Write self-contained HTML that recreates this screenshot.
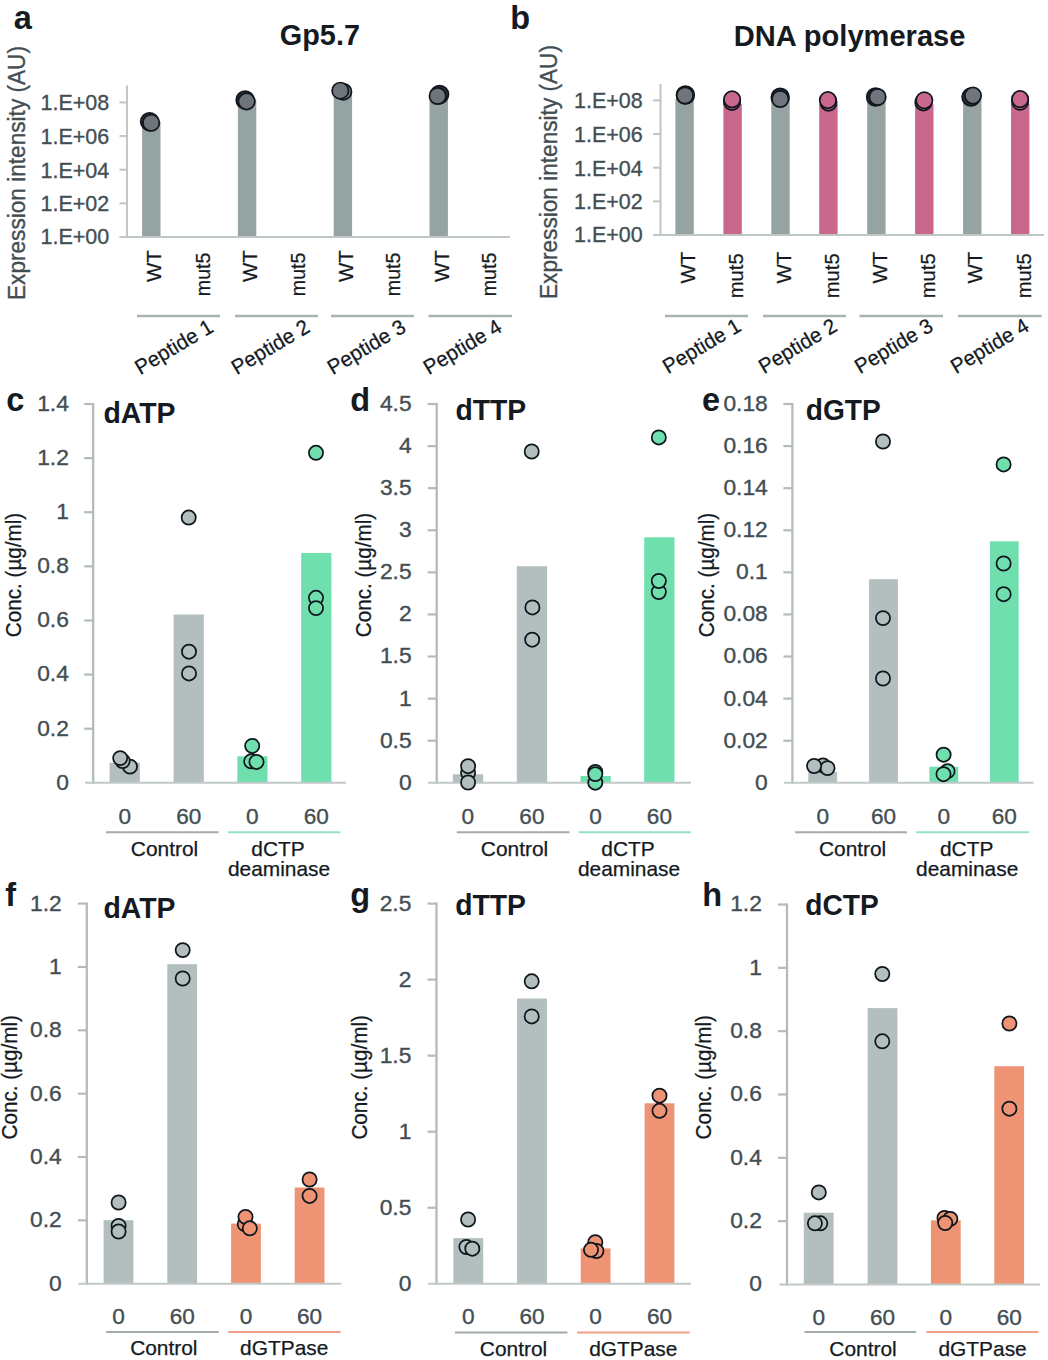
<!DOCTYPE html>
<html><head><meta charset="utf-8"><title>Figure</title>
<style>
html,body{margin:0;padding:0;background:#fff;}
body{width:1048px;height:1360px;overflow:hidden;}
svg{display:block;font-family:"Liberation Sans",sans-serif;}
</style></head><body>
<svg width="1048" height="1360" viewBox="0 0 1048 1360">
<rect width="1048" height="1360" fill="#ffffff"/>
<text x="13.8" y="29" font-size="32.5" text-anchor="start" fill="#141a1f" font-weight="bold">a</text>
<text x="319.9" y="45.3" font-size="30.4" text-anchor="middle" fill="#141a1f" font-weight="bold" textLength="80.2" lengthAdjust="spacingAndGlyphs">Gp5.7</text>
<rect x="142.1" y="122.0" width="18.4" height="115.0" fill="#96a3a3"/>
<rect x="237.9" y="100.0" width="18.4" height="137.0" fill="#96a3a3"/>
<rect x="333.7" y="92.0" width="18.4" height="145.0" fill="#96a3a3"/>
<rect x="429.5" y="96.0" width="18.4" height="141.0" fill="#96a3a3"/>
<line x1="127" y1="85.6" x2="127" y2="238.1" stroke="#bfc6c6" stroke-width="2.1"/>
<line x1="119.5" y1="237" x2="510" y2="237" stroke="#bfc6c6" stroke-width="2.1"/>
<line x1="119.5" y1="102.4" x2="127" y2="102.4" stroke="#bfc6c6" stroke-width="2.0"/>
<text x="109.1" y="110.30000000000001" font-size="22.9" text-anchor="end" fill="#434e53" textLength="68.6" lengthAdjust="spacingAndGlyphs" stroke="#434e53" stroke-width="0.35">1.E+08</text>
<line x1="119.5" y1="136.05" x2="127" y2="136.05" stroke="#bfc6c6" stroke-width="2.0"/>
<text x="109.1" y="143.95000000000002" font-size="22.9" text-anchor="end" fill="#434e53" textLength="68.6" lengthAdjust="spacingAndGlyphs" stroke="#434e53" stroke-width="0.35">1.E+06</text>
<line x1="119.5" y1="169.7" x2="127" y2="169.7" stroke="#bfc6c6" stroke-width="2.0"/>
<text x="109.1" y="177.6" font-size="22.9" text-anchor="end" fill="#434e53" textLength="68.6" lengthAdjust="spacingAndGlyphs" stroke="#434e53" stroke-width="0.35">1.E+04</text>
<line x1="119.5" y1="203.35" x2="127" y2="203.35" stroke="#bfc6c6" stroke-width="2.0"/>
<text x="109.1" y="211.25" font-size="22.9" text-anchor="end" fill="#434e53" textLength="68.6" lengthAdjust="spacingAndGlyphs" stroke="#434e53" stroke-width="0.35">1.E+02</text>
<text x="109.1" y="244.20000000000002" font-size="22.9" text-anchor="end" fill="#434e53" textLength="68.6" lengthAdjust="spacingAndGlyphs" stroke="#434e53" stroke-width="0.35">1.E+00</text>
<circle cx="149.6" cy="121.7" r="8.9" fill="#2b3038" stroke="#10161d" stroke-width="1.7"/>
<circle cx="151.2" cy="122.8" r="8.2" fill="#6f757a" stroke="#10161d" stroke-width="1.7"/>
<circle cx="245.1" cy="99.9" r="8.9" fill="#2b3038" stroke="#10161d" stroke-width="1.7"/>
<circle cx="246.6" cy="101.4" r="8.2" fill="#6f757a" stroke="#10161d" stroke-width="1.7"/>
<circle cx="343.3" cy="91.7" r="8.2" fill="#6f757a" stroke="#10161d" stroke-width="1.7"/>
<circle cx="340.3" cy="90.7" r="8.2" fill="#6f757a" stroke="#10161d" stroke-width="1.7"/>
<circle cx="439.6" cy="94.5" r="8.9" fill="#2b3038" stroke="#10161d" stroke-width="1.7"/>
<circle cx="437.6" cy="96.0" r="8.2" fill="#6f757a" stroke="#10161d" stroke-width="1.7"/>
<text x="24.5" y="173" font-size="24.8" text-anchor="middle" fill="#434e53" textLength="254" lengthAdjust="spacingAndGlyphs" stroke="#434e53" stroke-width="0.35" transform="rotate(-90 24.5 173)">Expression intensity (AU)</text>
<text x="161.0" y="250.2" font-size="20.4" text-anchor="end" fill="#141a1f" stroke="#141a1f" stroke-width="0.25" transform="rotate(-90 161.0 250.2)">WT</text>
<text x="210.4" y="252.6" font-size="21" text-anchor="end" fill="#141a1f" textLength="43.6" lengthAdjust="spacingAndGlyphs" stroke="#141a1f" stroke-width="0.25" transform="rotate(-90 210.4 252.6)">mut5</text>
<text x="256.8" y="250.2" font-size="20.4" text-anchor="end" fill="#141a1f" stroke="#141a1f" stroke-width="0.25" transform="rotate(-90 256.8 250.2)">WT</text>
<text x="305.5" y="252.6" font-size="21" text-anchor="end" fill="#141a1f" textLength="43.6" lengthAdjust="spacingAndGlyphs" stroke="#141a1f" stroke-width="0.25" transform="rotate(-90 305.5 252.6)">mut5</text>
<text x="352.59999999999997" y="250.2" font-size="20.4" text-anchor="end" fill="#141a1f" stroke="#141a1f" stroke-width="0.25" transform="rotate(-90 352.59999999999997 250.2)">WT</text>
<text x="400.5" y="252.6" font-size="21" text-anchor="end" fill="#141a1f" textLength="43.6" lengthAdjust="spacingAndGlyphs" stroke="#141a1f" stroke-width="0.25" transform="rotate(-90 400.5 252.6)">mut5</text>
<text x="449.09999999999997" y="250.2" font-size="20.4" text-anchor="end" fill="#141a1f" stroke="#141a1f" stroke-width="0.25" transform="rotate(-90 449.09999999999997 250.2)">WT</text>
<text x="496.3" y="252.6" font-size="21" text-anchor="end" fill="#141a1f" textLength="43.6" lengthAdjust="spacingAndGlyphs" stroke="#141a1f" stroke-width="0.25" transform="rotate(-90 496.3 252.6)">mut5</text>
<line x1="137" y1="316" x2="220" y2="316" stroke="#a9b3b3" stroke-width="2.4"/>
<line x1="235" y1="316" x2="318" y2="316" stroke="#a9b3b3" stroke-width="2.4"/>
<line x1="331" y1="316" x2="414" y2="316" stroke="#a9b3b3" stroke-width="2.4"/>
<line x1="428.5" y1="316" x2="512" y2="316" stroke="#a9b3b3" stroke-width="2.4"/>
<text x="140.3" y="375.2" font-size="21" text-anchor="start" fill="#141a1f" stroke="#141a1f" stroke-width="0.25" textLength="86.7" lengthAdjust="spacingAndGlyphs" transform="rotate(-30.8 140.3 375.2)">Peptide 1</text>
<text x="236.8" y="375.2" font-size="21" text-anchor="start" fill="#141a1f" stroke="#141a1f" stroke-width="0.25" textLength="86.7" lengthAdjust="spacingAndGlyphs" transform="rotate(-30.8 236.8 375.2)">Peptide 2</text>
<text x="332.8" y="375.2" font-size="21" text-anchor="start" fill="#141a1f" stroke="#141a1f" stroke-width="0.25" textLength="86.7" lengthAdjust="spacingAndGlyphs" transform="rotate(-30.8 332.8 375.2)">Peptide 3</text>
<text x="428.8" y="375.2" font-size="21" text-anchor="start" fill="#141a1f" stroke="#141a1f" stroke-width="0.25" textLength="86.7" lengthAdjust="spacingAndGlyphs" transform="rotate(-30.8 428.8 375.2)">Peptide 4</text>
<text x="510.2" y="29" font-size="32.5" text-anchor="start" fill="#141a1f" font-weight="bold">b</text>
<text x="849.6" y="45.9" font-size="30.4" text-anchor="middle" fill="#141a1f" font-weight="bold" textLength="231.6" lengthAdjust="spacingAndGlyphs">DNA polymerase</text>
<rect x="675.4" y="99.0" width="18.4" height="136.0" fill="#96a3a3"/>
<rect x="723.4" y="104.0" width="18.4" height="131.0" fill="#c9688c"/>
<rect x="771.3" y="99.0" width="18.4" height="136.0" fill="#96a3a3"/>
<rect x="819.2" y="104.0" width="18.4" height="131.0" fill="#c9688c"/>
<rect x="867.2" y="99.0" width="18.4" height="136.0" fill="#96a3a3"/>
<rect x="915.1" y="104.0" width="18.4" height="131.0" fill="#c9688c"/>
<rect x="963.1" y="99.0" width="18.4" height="136.0" fill="#96a3a3"/>
<rect x="1011.0" y="104.0" width="18.4" height="131.0" fill="#c9688c"/>
<line x1="660.5" y1="84" x2="660.5" y2="236.1" stroke="#bfc6c6" stroke-width="2.1"/>
<line x1="653.0" y1="235" x2="1044" y2="235" stroke="#bfc6c6" stroke-width="2.1"/>
<line x1="653.0" y1="100.4" x2="660.5" y2="100.4" stroke="#bfc6c6" stroke-width="2.0"/>
<text x="642.6" y="108.30000000000001" font-size="22.9" text-anchor="end" fill="#434e53" textLength="68.6" lengthAdjust="spacingAndGlyphs" stroke="#434e53" stroke-width="0.35">1.E+08</text>
<line x1="653.0" y1="134.05" x2="660.5" y2="134.05" stroke="#bfc6c6" stroke-width="2.0"/>
<text x="642.6" y="141.95000000000002" font-size="22.9" text-anchor="end" fill="#434e53" textLength="68.6" lengthAdjust="spacingAndGlyphs" stroke="#434e53" stroke-width="0.35">1.E+06</text>
<line x1="653.0" y1="167.7" x2="660.5" y2="167.7" stroke="#bfc6c6" stroke-width="2.0"/>
<text x="642.6" y="175.6" font-size="22.9" text-anchor="end" fill="#434e53" textLength="68.6" lengthAdjust="spacingAndGlyphs" stroke="#434e53" stroke-width="0.35">1.E+04</text>
<line x1="653.0" y1="201.35" x2="660.5" y2="201.35" stroke="#bfc6c6" stroke-width="2.0"/>
<text x="642.6" y="209.25" font-size="22.9" text-anchor="end" fill="#434e53" textLength="68.6" lengthAdjust="spacingAndGlyphs" stroke="#434e53" stroke-width="0.35">1.E+02</text>
<text x="642.6" y="242.20000000000002" font-size="22.9" text-anchor="end" fill="#434e53" textLength="68.6" lengthAdjust="spacingAndGlyphs" stroke="#434e53" stroke-width="0.35">1.E+00</text>
<circle cx="685.4" cy="95.0" r="8.9" fill="#2b3038" stroke="#10161d" stroke-width="1.7"/>
<circle cx="685.0" cy="95.5" r="8.2" fill="#6f757a" stroke="#10161d" stroke-width="1.7"/>
<circle cx="732.0" cy="101.9" r="8.2" fill="#c9688c" stroke="#10161d" stroke-width="1.7"/>
<circle cx="732.1" cy="99.4" r="8.2" fill="#c9688c" stroke="#10161d" stroke-width="1.7"/>
<circle cx="780.2" cy="97.2" r="8.9" fill="#2b3038" stroke="#10161d" stroke-width="1.7"/>
<circle cx="780.2" cy="99.0" r="8.2" fill="#6f757a" stroke="#10161d" stroke-width="1.7"/>
<circle cx="828.5" cy="102.6" r="8.2" fill="#c9688c" stroke="#10161d" stroke-width="1.7"/>
<circle cx="827.9" cy="100.1" r="8.2" fill="#c9688c" stroke="#10161d" stroke-width="1.7"/>
<circle cx="875.6" cy="97.0" r="8.9" fill="#2b3038" stroke="#10161d" stroke-width="1.7"/>
<circle cx="877.6" cy="97.0" r="8.2" fill="#6f757a" stroke="#10161d" stroke-width="1.7"/>
<circle cx="923.4" cy="102.4" r="8.2" fill="#c9688c" stroke="#10161d" stroke-width="1.7"/>
<circle cx="924.3" cy="100.3" r="8.2" fill="#c9688c" stroke="#10161d" stroke-width="1.7"/>
<circle cx="971.0" cy="97.1" r="8.9" fill="#2b3038" stroke="#10161d" stroke-width="1.7"/>
<circle cx="973.0" cy="95.6" r="8.2" fill="#6f757a" stroke="#10161d" stroke-width="1.7"/>
<circle cx="1020.1" cy="101.7" r="8.2" fill="#c9688c" stroke="#10161d" stroke-width="1.7"/>
<circle cx="1020.1" cy="99.1" r="8.2" fill="#c9688c" stroke="#10161d" stroke-width="1.7"/>
<text x="556.5" y="172" font-size="24.8" text-anchor="middle" fill="#434e53" textLength="254" lengthAdjust="spacingAndGlyphs" stroke="#434e53" stroke-width="0.35" transform="rotate(-90 556.5 172)">Expression intensity (AU)</text>
<text x="694.8000000000001" y="251.9" font-size="20.4" text-anchor="end" fill="#141a1f" stroke="#141a1f" stroke-width="0.25" transform="rotate(-90 694.8000000000001 251.9)">WT</text>
<text x="743.2500000000001" y="253.4" font-size="21" text-anchor="end" fill="#141a1f" textLength="44.8" lengthAdjust="spacingAndGlyphs" stroke="#141a1f" stroke-width="0.25" transform="rotate(-90 743.2500000000001 253.4)">mut5</text>
<text x="790.7" y="251.9" font-size="20.4" text-anchor="end" fill="#141a1f" stroke="#141a1f" stroke-width="0.25" transform="rotate(-90 790.7 251.9)">WT</text>
<text x="839.1500000000001" y="253.4" font-size="21" text-anchor="end" fill="#141a1f" textLength="44.8" lengthAdjust="spacingAndGlyphs" stroke="#141a1f" stroke-width="0.25" transform="rotate(-90 839.1500000000001 253.4)">mut5</text>
<text x="886.6000000000001" y="251.9" font-size="20.4" text-anchor="end" fill="#141a1f" stroke="#141a1f" stroke-width="0.25" transform="rotate(-90 886.6000000000001 251.9)">WT</text>
<text x="935.0500000000001" y="253.4" font-size="21" text-anchor="end" fill="#141a1f" textLength="44.8" lengthAdjust="spacingAndGlyphs" stroke="#141a1f" stroke-width="0.25" transform="rotate(-90 935.0500000000001 253.4)">mut5</text>
<text x="982.5000000000001" y="251.9" font-size="20.4" text-anchor="end" fill="#141a1f" stroke="#141a1f" stroke-width="0.25" transform="rotate(-90 982.5000000000001 251.9)">WT</text>
<text x="1030.95" y="253.4" font-size="21" text-anchor="end" fill="#141a1f" textLength="44.8" lengthAdjust="spacingAndGlyphs" stroke="#141a1f" stroke-width="0.25" transform="rotate(-90 1030.95 253.4)">mut5</text>
<line x1="665" y1="316" x2="748" y2="316" stroke="#a9b3b3" stroke-width="2.4"/>
<line x1="763" y1="316" x2="846" y2="316" stroke="#a9b3b3" stroke-width="2.4"/>
<line x1="859.5" y1="316" x2="943" y2="316" stroke="#a9b3b3" stroke-width="2.4"/>
<line x1="958" y1="316" x2="1041.6" y2="316" stroke="#a9b3b3" stroke-width="2.4"/>
<text x="668.0" y="374.3" font-size="21" text-anchor="start" fill="#141a1f" stroke="#141a1f" stroke-width="0.25" textLength="86.7" lengthAdjust="spacingAndGlyphs" transform="rotate(-30.8 668.0 374.3)">Peptide 1</text>
<text x="764.0" y="374.3" font-size="21" text-anchor="start" fill="#141a1f" stroke="#141a1f" stroke-width="0.25" textLength="86.7" lengthAdjust="spacingAndGlyphs" transform="rotate(-30.8 764.0 374.3)">Peptide 2</text>
<text x="860.0" y="374.3" font-size="21" text-anchor="start" fill="#141a1f" stroke="#141a1f" stroke-width="0.25" textLength="86.7" lengthAdjust="spacingAndGlyphs" transform="rotate(-30.8 860.0 374.3)">Peptide 3</text>
<text x="956.0" y="374.3" font-size="21" text-anchor="start" fill="#141a1f" stroke="#141a1f" stroke-width="0.25" textLength="86.7" lengthAdjust="spacingAndGlyphs" transform="rotate(-30.8 956.0 374.3)">Peptide 4</text>
<text x="6.3" y="411" font-size="32.5" text-anchor="start" fill="#141a1f" font-weight="bold">c</text>
<text x="103.4" y="423.4" font-size="30.4" text-anchor="start" fill="#141a1f" font-weight="bold" textLength="72.1" lengthAdjust="spacingAndGlyphs">dATP</text>
<rect x="109.6" y="762.6" width="30.2" height="20.2" fill="#b3bfbf"/>
<rect x="173.6" y="614.5" width="30.2" height="168.3" fill="#b3bfbf"/>
<rect x="237.3" y="756.3" width="30.2" height="26.5" fill="#70dfae"/>
<rect x="301.2" y="553.0" width="30.2" height="229.8" fill="#70dfae"/>
<line x1="93.2" y1="402.9" x2="93.2" y2="783.8" stroke="#b3bcbb" stroke-width="2.3"/>
<line x1="85" y1="782.8" x2="346" y2="782.8" stroke="#c0c9c8" stroke-width="2.0"/>
<line x1="84.2" y1="404.0" x2="93.2" y2="404.0" stroke="#b3bbbb" stroke-width="2.2"/>
<text x="68.9" y="410.9" font-size="22.3" text-anchor="end" fill="#434e53" textLength="31.7" lengthAdjust="spacingAndGlyphs" stroke="#434e53" stroke-width="0.35">1.4</text>
<line x1="84.2" y1="458.1142857142857" x2="93.2" y2="458.1142857142857" stroke="#b3bbbb" stroke-width="2.2"/>
<text x="68.9" y="465.0142857142857" font-size="22.3" text-anchor="end" fill="#434e53" textLength="31.7" lengthAdjust="spacingAndGlyphs" stroke="#434e53" stroke-width="0.35">1.2</text>
<line x1="84.2" y1="512.2285714285714" x2="93.2" y2="512.2285714285714" stroke="#b3bbbb" stroke-width="2.2"/>
<text x="68.9" y="519.1285714285714" font-size="22.3" text-anchor="end" fill="#434e53" textLength="12.7" lengthAdjust="spacingAndGlyphs" stroke="#434e53" stroke-width="0.35">1</text>
<line x1="84.2" y1="566.3428571428572" x2="93.2" y2="566.3428571428572" stroke="#b3bbbb" stroke-width="2.2"/>
<text x="68.9" y="573.2428571428571" font-size="22.3" text-anchor="end" fill="#434e53" textLength="31.7" lengthAdjust="spacingAndGlyphs" stroke="#434e53" stroke-width="0.35">0.8</text>
<line x1="84.2" y1="620.4571428571428" x2="93.2" y2="620.4571428571428" stroke="#b3bbbb" stroke-width="2.2"/>
<text x="68.9" y="627.3571428571428" font-size="22.3" text-anchor="end" fill="#434e53" textLength="31.7" lengthAdjust="spacingAndGlyphs" stroke="#434e53" stroke-width="0.35">0.6</text>
<line x1="84.2" y1="674.5714285714286" x2="93.2" y2="674.5714285714286" stroke="#b3bbbb" stroke-width="2.2"/>
<text x="68.9" y="681.4714285714285" font-size="22.3" text-anchor="end" fill="#434e53" textLength="31.7" lengthAdjust="spacingAndGlyphs" stroke="#434e53" stroke-width="0.35">0.4</text>
<line x1="84.2" y1="728.6857142857143" x2="93.2" y2="728.6857142857143" stroke="#b3bbbb" stroke-width="2.2"/>
<text x="68.9" y="735.5857142857143" font-size="22.3" text-anchor="end" fill="#434e53" textLength="31.7" lengthAdjust="spacingAndGlyphs" stroke="#434e53" stroke-width="0.35">0.2</text>
<text x="68.9" y="789.6999999999999" font-size="22.3" text-anchor="end" fill="#434e53" textLength="12.7" lengthAdjust="spacingAndGlyphs" stroke="#434e53" stroke-width="0.35">0</text>
<circle cx="130.0" cy="766.6" r="7.1" fill="#b3bfbf" stroke="#10161d" stroke-width="1.75"/>
<circle cx="122.6" cy="761.0" r="7.1" fill="#b3bfbf" stroke="#10161d" stroke-width="1.75"/>
<circle cx="120.2" cy="758.1" r="7.1" fill="#b3bfbf" stroke="#10161d" stroke-width="1.75"/>
<circle cx="188.7" cy="517.6" r="7.1" fill="#b3bfbf" stroke="#10161d" stroke-width="1.75"/>
<circle cx="189.0" cy="651.7" r="7.1" fill="#b3bfbf" stroke="#10161d" stroke-width="1.75"/>
<circle cx="189.0" cy="673.4" r="7.1" fill="#b3bfbf" stroke="#10161d" stroke-width="1.75"/>
<circle cx="251.2" cy="761.3" r="7.1" fill="#70dfae" stroke="#10161d" stroke-width="1.75"/>
<circle cx="256.5" cy="761.9" r="7.1" fill="#70dfae" stroke="#10161d" stroke-width="1.75"/>
<circle cx="252.2" cy="745.9" r="7.1" fill="#70dfae" stroke="#10161d" stroke-width="1.75"/>
<circle cx="316.0" cy="452.8" r="7.1" fill="#70dfae" stroke="#10161d" stroke-width="1.75"/>
<circle cx="316.0" cy="597.8" r="7.1" fill="#70dfae" stroke="#10161d" stroke-width="1.75"/>
<circle cx="316.0" cy="608.1" r="7.1" fill="#70dfae" stroke="#10161d" stroke-width="1.75"/>
<text x="20.7" y="575" font-size="21.3" text-anchor="middle" fill="#141a1f" textLength="124.5" lengthAdjust="spacingAndGlyphs" stroke="#141a1f" stroke-width="0.25" transform="rotate(-90 20.7 575)">Conc. (µg/ml)</text>
<text x="124.7" y="823.5" font-size="22.6" text-anchor="middle" fill="#434e53" textLength="12.6" lengthAdjust="spacingAndGlyphs" stroke="#434e53" stroke-width="0.35">0</text>
<text x="188.7" y="823.5" font-size="22.6" text-anchor="middle" fill="#434e53" textLength="25.1" lengthAdjust="spacingAndGlyphs" stroke="#434e53" stroke-width="0.35">60</text>
<text x="252.4" y="823.5" font-size="22.6" text-anchor="middle" fill="#434e53" textLength="12.6" lengthAdjust="spacingAndGlyphs" stroke="#434e53" stroke-width="0.35">0</text>
<text x="316.3" y="823.5" font-size="22.6" text-anchor="middle" fill="#434e53" textLength="25.1" lengthAdjust="spacingAndGlyphs" stroke="#434e53" stroke-width="0.35">60</text>
<line x1="106" y1="832.3" x2="218.5" y2="832.3" stroke="#a3abab" stroke-width="2.0"/>
<line x1="228" y1="832.3" x2="340.5" y2="832.3" stroke="#96e2c0" stroke-width="2.0"/>
<text x="164.5" y="855.8" font-size="20.9" text-anchor="middle" fill="#141a1f" stroke="#141a1f" stroke-width="0.25">Control</text>
<text x="278" y="855.8" font-size="20.9" text-anchor="middle" fill="#141a1f" stroke="#141a1f" stroke-width="0.25">dCTP</text>
<text x="279" y="875.8" font-size="20.9" text-anchor="middle" fill="#141a1f" stroke="#141a1f" stroke-width="0.25">deaminase</text>
<text x="350.3" y="411" font-size="32.5" text-anchor="start" fill="#141a1f" font-weight="bold">d</text>
<text x="455.4" y="420" font-size="30.4" text-anchor="start" fill="#141a1f" font-weight="bold" textLength="70.8" lengthAdjust="spacingAndGlyphs">dTTP</text>
<rect x="452.8" y="774.3" width="30.3" height="8.5" fill="#b3bfbf"/>
<rect x="516.8" y="566.2" width="30.3" height="216.6" fill="#b3bfbf"/>
<rect x="580.5" y="776.0" width="30.3" height="6.8" fill="#70dfae"/>
<rect x="644.2" y="537.3" width="30.3" height="245.5" fill="#70dfae"/>
<line x1="436.7" y1="402.9" x2="436.7" y2="783.8" stroke="#b3bcbb" stroke-width="2.3"/>
<line x1="428" y1="782.8" x2="691" y2="782.8" stroke="#c0c9c8" stroke-width="2.0"/>
<line x1="427.7" y1="404.0" x2="436.7" y2="404.0" stroke="#b3bbbb" stroke-width="2.2"/>
<text x="411.59999999999997" y="410.9" font-size="22.3" text-anchor="end" fill="#434e53" textLength="31.7" lengthAdjust="spacingAndGlyphs" stroke="#434e53" stroke-width="0.35">4.5</text>
<line x1="427.7" y1="446.0888888888889" x2="436.7" y2="446.0888888888889" stroke="#b3bbbb" stroke-width="2.2"/>
<text x="411.59999999999997" y="452.9888888888889" font-size="22.3" text-anchor="end" fill="#434e53" textLength="12.7" lengthAdjust="spacingAndGlyphs" stroke="#434e53" stroke-width="0.35">4</text>
<line x1="427.7" y1="488.17777777777775" x2="436.7" y2="488.17777777777775" stroke="#b3bbbb" stroke-width="2.2"/>
<text x="411.59999999999997" y="495.0777777777777" font-size="22.3" text-anchor="end" fill="#434e53" textLength="31.7" lengthAdjust="spacingAndGlyphs" stroke="#434e53" stroke-width="0.35">3.5</text>
<line x1="427.7" y1="530.2666666666667" x2="436.7" y2="530.2666666666667" stroke="#b3bbbb" stroke-width="2.2"/>
<text x="411.59999999999997" y="537.1666666666666" font-size="22.3" text-anchor="end" fill="#434e53" textLength="12.7" lengthAdjust="spacingAndGlyphs" stroke="#434e53" stroke-width="0.35">3</text>
<line x1="427.7" y1="572.3555555555555" x2="436.7" y2="572.3555555555555" stroke="#b3bbbb" stroke-width="2.2"/>
<text x="411.59999999999997" y="579.2555555555555" font-size="22.3" text-anchor="end" fill="#434e53" textLength="31.7" lengthAdjust="spacingAndGlyphs" stroke="#434e53" stroke-width="0.35">2.5</text>
<line x1="427.7" y1="614.4444444444445" x2="436.7" y2="614.4444444444445" stroke="#b3bbbb" stroke-width="2.2"/>
<text x="411.59999999999997" y="621.3444444444444" font-size="22.3" text-anchor="end" fill="#434e53" textLength="12.7" lengthAdjust="spacingAndGlyphs" stroke="#434e53" stroke-width="0.35">2</text>
<line x1="427.7" y1="656.5333333333333" x2="436.7" y2="656.5333333333333" stroke="#b3bbbb" stroke-width="2.2"/>
<text x="411.59999999999997" y="663.4333333333333" font-size="22.3" text-anchor="end" fill="#434e53" textLength="31.7" lengthAdjust="spacingAndGlyphs" stroke="#434e53" stroke-width="0.35">1.5</text>
<line x1="427.7" y1="698.6222222222221" x2="436.7" y2="698.6222222222221" stroke="#b3bbbb" stroke-width="2.2"/>
<text x="411.59999999999997" y="705.5222222222221" font-size="22.3" text-anchor="end" fill="#434e53" textLength="12.7" lengthAdjust="spacingAndGlyphs" stroke="#434e53" stroke-width="0.35">1</text>
<line x1="427.7" y1="740.711111111111" x2="436.7" y2="740.711111111111" stroke="#b3bbbb" stroke-width="2.2"/>
<text x="411.59999999999997" y="747.611111111111" font-size="22.3" text-anchor="end" fill="#434e53" textLength="31.7" lengthAdjust="spacingAndGlyphs" stroke="#434e53" stroke-width="0.35">0.5</text>
<text x="411.59999999999997" y="789.6999999999999" font-size="22.3" text-anchor="end" fill="#434e53" textLength="12.7" lengthAdjust="spacingAndGlyphs" stroke="#434e53" stroke-width="0.35">0</text>
<circle cx="468.1" cy="772.9" r="7.1" fill="#b3bfbf" stroke="#10161d" stroke-width="1.75"/>
<circle cx="468.1" cy="766.2" r="7.1" fill="#b3bfbf" stroke="#10161d" stroke-width="1.75"/>
<circle cx="468.1" cy="782.5" r="7.1" fill="#b3bfbf" stroke="#10161d" stroke-width="1.75"/>
<circle cx="531.7" cy="451.5" r="7.1" fill="#b3bfbf" stroke="#10161d" stroke-width="1.75"/>
<circle cx="532.4" cy="607.4" r="7.1" fill="#b3bfbf" stroke="#10161d" stroke-width="1.75"/>
<circle cx="532.2" cy="639.7" r="7.1" fill="#b3bfbf" stroke="#10161d" stroke-width="1.75"/>
<circle cx="595.3" cy="782.7" r="7.1" fill="#70dfae" stroke="#10161d" stroke-width="1.75"/>
<circle cx="595.3" cy="772.0" r="7.1" fill="#70dfae" stroke="#10161d" stroke-width="1.75"/>
<circle cx="595.3" cy="774.1" r="7.1" fill="#70dfae" stroke="#10161d" stroke-width="1.75"/>
<circle cx="658.8" cy="437.4" r="7.1" fill="#70dfae" stroke="#10161d" stroke-width="1.75"/>
<circle cx="658.8" cy="592.0" r="7.1" fill="#70dfae" stroke="#10161d" stroke-width="1.75"/>
<circle cx="658.8" cy="581.0" r="7.1" fill="#70dfae" stroke="#10161d" stroke-width="1.75"/>
<text x="371.2" y="575" font-size="21.3" text-anchor="middle" fill="#141a1f" textLength="124.5" lengthAdjust="spacingAndGlyphs" stroke="#141a1f" stroke-width="0.25" transform="rotate(-90 371.2 575)">Conc. (µg/ml)</text>
<text x="467.9" y="823.5" font-size="22.6" text-anchor="middle" fill="#434e53" textLength="12.6" lengthAdjust="spacingAndGlyphs" stroke="#434e53" stroke-width="0.35">0</text>
<text x="531.9" y="823.5" font-size="22.6" text-anchor="middle" fill="#434e53" textLength="25.1" lengthAdjust="spacingAndGlyphs" stroke="#434e53" stroke-width="0.35">60</text>
<text x="595.6" y="823.5" font-size="22.6" text-anchor="middle" fill="#434e53" textLength="12.6" lengthAdjust="spacingAndGlyphs" stroke="#434e53" stroke-width="0.35">0</text>
<text x="659.4" y="823.5" font-size="22.6" text-anchor="middle" fill="#434e53" textLength="25.1" lengthAdjust="spacingAndGlyphs" stroke="#434e53" stroke-width="0.35">60</text>
<line x1="456.8" y1="832.3" x2="569.5" y2="832.3" stroke="#a3abab" stroke-width="2.0"/>
<line x1="578.7" y1="832.3" x2="691" y2="832.3" stroke="#96e2c0" stroke-width="2.0"/>
<text x="514.5" y="855.8" font-size="20.9" text-anchor="middle" fill="#141a1f" stroke="#141a1f" stroke-width="0.25">Control</text>
<text x="628" y="855.8" font-size="20.9" text-anchor="middle" fill="#141a1f" stroke="#141a1f" stroke-width="0.25">dCTP</text>
<text x="629" y="875.8" font-size="20.9" text-anchor="middle" fill="#141a1f" stroke="#141a1f" stroke-width="0.25">deaminase</text>
<text x="702" y="411" font-size="32.5" text-anchor="start" fill="#141a1f" font-weight="bold">e</text>
<text x="805.8" y="419.7" font-size="30.4" text-anchor="start" fill="#141a1f" font-weight="bold" textLength="75" lengthAdjust="spacingAndGlyphs">dGTP</text>
<rect x="808.3" y="771.8" width="28.8" height="11.0" fill="#b3bfbf"/>
<rect x="869.1" y="579.2" width="28.8" height="203.6" fill="#b3bfbf"/>
<rect x="929.4" y="766.7" width="28.8" height="16.1" fill="#70dfae"/>
<rect x="989.9" y="541.3" width="28.8" height="241.5" fill="#70dfae"/>
<line x1="792.4" y1="402.9" x2="792.4" y2="783.8" stroke="#b3bcbb" stroke-width="2.3"/>
<line x1="784" y1="782.8" x2="1033.5" y2="782.8" stroke="#c0c9c8" stroke-width="2.0"/>
<line x1="783.4" y1="404.0" x2="792.4" y2="404.0" stroke="#b3bbbb" stroke-width="2.2"/>
<text x="767.8" y="410.9" font-size="22.3" text-anchor="end" fill="#434e53" textLength="44.4" lengthAdjust="spacingAndGlyphs" stroke="#434e53" stroke-width="0.35">0.18</text>
<line x1="783.4" y1="446.0888888888889" x2="792.4" y2="446.0888888888889" stroke="#b3bbbb" stroke-width="2.2"/>
<text x="767.8" y="452.9888888888889" font-size="22.3" text-anchor="end" fill="#434e53" textLength="44.4" lengthAdjust="spacingAndGlyphs" stroke="#434e53" stroke-width="0.35">0.16</text>
<line x1="783.4" y1="488.17777777777775" x2="792.4" y2="488.17777777777775" stroke="#b3bbbb" stroke-width="2.2"/>
<text x="767.8" y="495.0777777777777" font-size="22.3" text-anchor="end" fill="#434e53" textLength="44.4" lengthAdjust="spacingAndGlyphs" stroke="#434e53" stroke-width="0.35">0.14</text>
<line x1="783.4" y1="530.2666666666667" x2="792.4" y2="530.2666666666667" stroke="#b3bbbb" stroke-width="2.2"/>
<text x="767.8" y="537.1666666666666" font-size="22.3" text-anchor="end" fill="#434e53" textLength="44.4" lengthAdjust="spacingAndGlyphs" stroke="#434e53" stroke-width="0.35">0.12</text>
<line x1="783.4" y1="572.3555555555555" x2="792.4" y2="572.3555555555555" stroke="#b3bbbb" stroke-width="2.2"/>
<text x="767.8" y="579.2555555555555" font-size="22.3" text-anchor="end" fill="#434e53" textLength="31.7" lengthAdjust="spacingAndGlyphs" stroke="#434e53" stroke-width="0.35">0.1</text>
<line x1="783.4" y1="614.4444444444445" x2="792.4" y2="614.4444444444445" stroke="#b3bbbb" stroke-width="2.2"/>
<text x="767.8" y="621.3444444444444" font-size="22.3" text-anchor="end" fill="#434e53" textLength="44.4" lengthAdjust="spacingAndGlyphs" stroke="#434e53" stroke-width="0.35">0.08</text>
<line x1="783.4" y1="656.5333333333333" x2="792.4" y2="656.5333333333333" stroke="#b3bbbb" stroke-width="2.2"/>
<text x="767.8" y="663.4333333333333" font-size="22.3" text-anchor="end" fill="#434e53" textLength="44.4" lengthAdjust="spacingAndGlyphs" stroke="#434e53" stroke-width="0.35">0.06</text>
<line x1="783.4" y1="698.6222222222221" x2="792.4" y2="698.6222222222221" stroke="#b3bbbb" stroke-width="2.2"/>
<text x="767.8" y="705.5222222222221" font-size="22.3" text-anchor="end" fill="#434e53" textLength="44.4" lengthAdjust="spacingAndGlyphs" stroke="#434e53" stroke-width="0.35">0.04</text>
<line x1="783.4" y1="740.711111111111" x2="792.4" y2="740.711111111111" stroke="#b3bbbb" stroke-width="2.2"/>
<text x="767.8" y="747.611111111111" font-size="22.3" text-anchor="end" fill="#434e53" textLength="44.4" lengthAdjust="spacingAndGlyphs" stroke="#434e53" stroke-width="0.35">0.02</text>
<text x="767.8" y="789.6999999999999" font-size="22.3" text-anchor="end" fill="#434e53" textLength="12.7" lengthAdjust="spacingAndGlyphs" stroke="#434e53" stroke-width="0.35">0</text>
<circle cx="823.0" cy="765.4" r="7.1" fill="#b3bfbf" stroke="#10161d" stroke-width="1.75"/>
<circle cx="827.5" cy="768.1" r="7.1" fill="#b3bfbf" stroke="#10161d" stroke-width="1.75"/>
<circle cx="814.1" cy="766.0" r="7.1" fill="#b3bfbf" stroke="#10161d" stroke-width="1.75"/>
<circle cx="883.0" cy="441.5" r="7.1" fill="#b3bfbf" stroke="#10161d" stroke-width="1.75"/>
<circle cx="883.0" cy="618.1" r="7.1" fill="#b3bfbf" stroke="#10161d" stroke-width="1.75"/>
<circle cx="883.0" cy="678.5" r="7.1" fill="#b3bfbf" stroke="#10161d" stroke-width="1.75"/>
<circle cx="947.5" cy="771.2" r="7.1" fill="#70dfae" stroke="#10161d" stroke-width="1.75"/>
<circle cx="943.5" cy="774.2" r="7.1" fill="#70dfae" stroke="#10161d" stroke-width="1.75"/>
<circle cx="943.6" cy="754.7" r="7.1" fill="#70dfae" stroke="#10161d" stroke-width="1.75"/>
<circle cx="1003.6" cy="464.4" r="7.1" fill="#70dfae" stroke="#10161d" stroke-width="1.75"/>
<circle cx="1003.6" cy="563.5" r="7.1" fill="#70dfae" stroke="#10161d" stroke-width="1.75"/>
<circle cx="1003.6" cy="594.2" r="7.1" fill="#70dfae" stroke="#10161d" stroke-width="1.75"/>
<text x="714.3000000000001" y="575" font-size="21.3" text-anchor="middle" fill="#141a1f" textLength="124.5" lengthAdjust="spacingAndGlyphs" stroke="#141a1f" stroke-width="0.25" transform="rotate(-90 714.3000000000001 575)">Conc. (µg/ml)</text>
<text x="822.7" y="823.5" font-size="22.6" text-anchor="middle" fill="#434e53" textLength="12.6" lengthAdjust="spacingAndGlyphs" stroke="#434e53" stroke-width="0.35">0</text>
<text x="883.5" y="823.5" font-size="22.6" text-anchor="middle" fill="#434e53" textLength="25.1" lengthAdjust="spacingAndGlyphs" stroke="#434e53" stroke-width="0.35">60</text>
<text x="943.8" y="823.5" font-size="22.6" text-anchor="middle" fill="#434e53" textLength="12.6" lengthAdjust="spacingAndGlyphs" stroke="#434e53" stroke-width="0.35">0</text>
<text x="1004.3" y="823.5" font-size="22.6" text-anchor="middle" fill="#434e53" textLength="25.1" lengthAdjust="spacingAndGlyphs" stroke="#434e53" stroke-width="0.35">60</text>
<line x1="795.2" y1="832.3" x2="907" y2="832.3" stroke="#a3abab" stroke-width="2.0"/>
<line x1="916.2" y1="832.3" x2="1029" y2="832.3" stroke="#96e2c0" stroke-width="2.0"/>
<text x="852.6" y="855.8" font-size="20.9" text-anchor="middle" fill="#141a1f" stroke="#141a1f" stroke-width="0.25">Control</text>
<text x="966.7" y="855.8" font-size="20.9" text-anchor="middle" fill="#141a1f" stroke="#141a1f" stroke-width="0.25">dCTP</text>
<text x="967.2" y="875.8" font-size="20.9" text-anchor="middle" fill="#141a1f" stroke="#141a1f" stroke-width="0.25">deaminase</text>
<text x="5.3" y="906.1" font-size="32.5" text-anchor="start" fill="#141a1f" font-weight="bold">f</text>
<text x="103.4" y="918" font-size="30.4" text-anchor="start" fill="#141a1f" font-weight="bold" textLength="72.1" lengthAdjust="spacingAndGlyphs">dATP</text>
<rect x="103.6" y="1220.2" width="29.8" height="63.5" fill="#b3bfbf"/>
<rect x="167.3" y="964.2" width="29.8" height="319.5" fill="#b3bfbf"/>
<rect x="231.1" y="1223.6" width="29.8" height="60.1" fill="#ee9475"/>
<rect x="294.7" y="1187.5" width="29.8" height="96.2" fill="#ee9475"/>
<line x1="86.8" y1="902.5" x2="86.8" y2="1284.7" stroke="#b3bcbb" stroke-width="2.3"/>
<line x1="78.5" y1="1283.7" x2="341.3" y2="1283.7" stroke="#c0c9c8" stroke-width="2.0"/>
<line x1="77.8" y1="903.6" x2="86.8" y2="903.6" stroke="#b3bbbb" stroke-width="2.2"/>
<text x="61.699999999999996" y="910.5" font-size="22.3" text-anchor="end" fill="#434e53" textLength="31.7" lengthAdjust="spacingAndGlyphs" stroke="#434e53" stroke-width="0.35">1.2</text>
<line x1="77.8" y1="966.95" x2="86.8" y2="966.95" stroke="#b3bbbb" stroke-width="2.2"/>
<text x="61.699999999999996" y="973.85" font-size="22.3" text-anchor="end" fill="#434e53" textLength="12.7" lengthAdjust="spacingAndGlyphs" stroke="#434e53" stroke-width="0.35">1</text>
<line x1="77.8" y1="1030.3" x2="86.8" y2="1030.3" stroke="#b3bbbb" stroke-width="2.2"/>
<text x="61.699999999999996" y="1037.2" font-size="22.3" text-anchor="end" fill="#434e53" textLength="31.7" lengthAdjust="spacingAndGlyphs" stroke="#434e53" stroke-width="0.35">0.8</text>
<line x1="77.8" y1="1093.65" x2="86.8" y2="1093.65" stroke="#b3bbbb" stroke-width="2.2"/>
<text x="61.699999999999996" y="1100.5500000000002" font-size="22.3" text-anchor="end" fill="#434e53" textLength="31.7" lengthAdjust="spacingAndGlyphs" stroke="#434e53" stroke-width="0.35">0.6</text>
<line x1="77.8" y1="1157.0" x2="86.8" y2="1157.0" stroke="#b3bbbb" stroke-width="2.2"/>
<text x="61.699999999999996" y="1163.9" font-size="22.3" text-anchor="end" fill="#434e53" textLength="31.7" lengthAdjust="spacingAndGlyphs" stroke="#434e53" stroke-width="0.35">0.4</text>
<line x1="77.8" y1="1220.35" x2="86.8" y2="1220.35" stroke="#b3bbbb" stroke-width="2.2"/>
<text x="61.699999999999996" y="1227.25" font-size="22.3" text-anchor="end" fill="#434e53" textLength="31.7" lengthAdjust="spacingAndGlyphs" stroke="#434e53" stroke-width="0.35">0.2</text>
<text x="61.699999999999996" y="1290.6000000000001" font-size="22.3" text-anchor="end" fill="#434e53" textLength="12.7" lengthAdjust="spacingAndGlyphs" stroke="#434e53" stroke-width="0.35">0</text>
<circle cx="118.6" cy="1202.5" r="7.1" fill="#b3bfbf" stroke="#10161d" stroke-width="1.75"/>
<circle cx="118.6" cy="1226.0" r="7.1" fill="#b3bfbf" stroke="#10161d" stroke-width="1.75"/>
<circle cx="118.6" cy="1231.5" r="7.1" fill="#b3bfbf" stroke="#10161d" stroke-width="1.75"/>
<circle cx="182.7" cy="950.1" r="7.1" fill="#b3bfbf" stroke="#10161d" stroke-width="1.75"/>
<circle cx="182.7" cy="978.5" r="7.1" fill="#b3bfbf" stroke="#10161d" stroke-width="1.75"/>
<circle cx="244.8" cy="1224.2" r="7.1" fill="#ee9475" stroke="#10161d" stroke-width="1.75"/>
<circle cx="245.5" cy="1216.9" r="7.1" fill="#ee9475" stroke="#10161d" stroke-width="1.75"/>
<circle cx="249.8" cy="1228.3" r="7.1" fill="#ee9475" stroke="#10161d" stroke-width="1.75"/>
<circle cx="309.6" cy="1179.5" r="7.1" fill="#ee9475" stroke="#10161d" stroke-width="1.75"/>
<circle cx="309.6" cy="1195.9" r="7.1" fill="#ee9475" stroke="#10161d" stroke-width="1.75"/>
<text x="17.099999999999998" y="1077.3" font-size="21.3" text-anchor="middle" fill="#141a1f" textLength="124.5" lengthAdjust="spacingAndGlyphs" stroke="#141a1f" stroke-width="0.25" transform="rotate(-90 17.099999999999998 1077.3)">Conc. (µg/ml)</text>
<text x="118.5" y="1323.8" font-size="22.6" text-anchor="middle" fill="#434e53" textLength="12.6" lengthAdjust="spacingAndGlyphs" stroke="#434e53" stroke-width="0.35">0</text>
<text x="182.2" y="1323.8" font-size="22.6" text-anchor="middle" fill="#434e53" textLength="25.1" lengthAdjust="spacingAndGlyphs" stroke="#434e53" stroke-width="0.35">60</text>
<text x="246" y="1323.8" font-size="22.6" text-anchor="middle" fill="#434e53" textLength="12.6" lengthAdjust="spacingAndGlyphs" stroke="#434e53" stroke-width="0.35">0</text>
<text x="309.6" y="1323.8" font-size="22.6" text-anchor="middle" fill="#434e53" textLength="25.1" lengthAdjust="spacingAndGlyphs" stroke="#434e53" stroke-width="0.35">60</text>
<line x1="106.2" y1="1332.0" x2="218.8" y2="1332.0" stroke="#a3abab" stroke-width="2.0"/>
<line x1="228.1" y1="1332.0" x2="340.7" y2="1332.0" stroke="#f09f85" stroke-width="2.0"/>
<text x="163.8" y="1355.3" font-size="20.9" text-anchor="middle" fill="#141a1f" stroke="#141a1f" stroke-width="0.25">Control</text>
<text x="284.2" y="1355.3" font-size="20.9" text-anchor="middle" fill="#141a1f" stroke="#141a1f" stroke-width="0.25">dGTPase</text>
<text x="350.3" y="906" font-size="32.5" text-anchor="start" fill="#141a1f" font-weight="bold">g</text>
<text x="455.2" y="915.1" font-size="30.4" text-anchor="start" fill="#141a1f" font-weight="bold" textLength="70.8" lengthAdjust="spacingAndGlyphs">dTTP</text>
<rect x="453.4" y="1238.1" width="29.8" height="45.7" fill="#b3bfbf"/>
<rect x="517.1" y="998.5" width="29.8" height="285.3" fill="#b3bfbf"/>
<rect x="580.7" y="1248.4" width="29.8" height="35.4" fill="#ee9475"/>
<rect x="644.6" y="1103.3" width="29.8" height="180.5" fill="#ee9475"/>
<line x1="436.5" y1="902.5" x2="436.5" y2="1284.8" stroke="#b3bcbb" stroke-width="2.3"/>
<line x1="428" y1="1283.8" x2="691" y2="1283.8" stroke="#c0c9c8" stroke-width="2.0"/>
<line x1="427.5" y1="903.6" x2="436.5" y2="903.6" stroke="#b3bbbb" stroke-width="2.2"/>
<text x="411.4" y="910.5" font-size="22.3" text-anchor="end" fill="#434e53" textLength="31.7" lengthAdjust="spacingAndGlyphs" stroke="#434e53" stroke-width="0.35">2.5</text>
<line x1="427.5" y1="979.64" x2="436.5" y2="979.64" stroke="#b3bbbb" stroke-width="2.2"/>
<text x="411.4" y="986.54" font-size="22.3" text-anchor="end" fill="#434e53" textLength="12.7" lengthAdjust="spacingAndGlyphs" stroke="#434e53" stroke-width="0.35">2</text>
<line x1="427.5" y1="1055.68" x2="436.5" y2="1055.68" stroke="#b3bbbb" stroke-width="2.2"/>
<text x="411.4" y="1062.5800000000002" font-size="22.3" text-anchor="end" fill="#434e53" textLength="31.7" lengthAdjust="spacingAndGlyphs" stroke="#434e53" stroke-width="0.35">1.5</text>
<line x1="427.5" y1="1131.72" x2="436.5" y2="1131.72" stroke="#b3bbbb" stroke-width="2.2"/>
<text x="411.4" y="1138.6200000000001" font-size="22.3" text-anchor="end" fill="#434e53" textLength="12.7" lengthAdjust="spacingAndGlyphs" stroke="#434e53" stroke-width="0.35">1</text>
<line x1="427.5" y1="1207.76" x2="436.5" y2="1207.76" stroke="#b3bbbb" stroke-width="2.2"/>
<text x="411.4" y="1214.66" font-size="22.3" text-anchor="end" fill="#434e53" textLength="31.7" lengthAdjust="spacingAndGlyphs" stroke="#434e53" stroke-width="0.35">0.5</text>
<text x="411.4" y="1290.7" font-size="22.3" text-anchor="end" fill="#434e53" textLength="12.7" lengthAdjust="spacingAndGlyphs" stroke="#434e53" stroke-width="0.35">0</text>
<circle cx="468.1" cy="1219.5" r="7.1" fill="#b3bfbf" stroke="#10161d" stroke-width="1.75"/>
<circle cx="466.4" cy="1247.0" r="7.1" fill="#b3bfbf" stroke="#10161d" stroke-width="1.75"/>
<circle cx="472.3" cy="1248.7" r="7.1" fill="#b3bfbf" stroke="#10161d" stroke-width="1.75"/>
<circle cx="531.7" cy="981.3" r="7.1" fill="#b3bfbf" stroke="#10161d" stroke-width="1.75"/>
<circle cx="531.7" cy="1016.4" r="7.1" fill="#b3bfbf" stroke="#10161d" stroke-width="1.75"/>
<circle cx="595.3" cy="1242.2" r="7.1" fill="#ee9475" stroke="#10161d" stroke-width="1.75"/>
<circle cx="596.4" cy="1251.0" r="7.1" fill="#ee9475" stroke="#10161d" stroke-width="1.75"/>
<circle cx="591.0" cy="1249.8" r="7.1" fill="#ee9475" stroke="#10161d" stroke-width="1.75"/>
<circle cx="659.5" cy="1095.7" r="7.1" fill="#ee9475" stroke="#10161d" stroke-width="1.75"/>
<circle cx="659.5" cy="1110.8" r="7.1" fill="#ee9475" stroke="#10161d" stroke-width="1.75"/>
<text x="367.4" y="1077.3" font-size="21.3" text-anchor="middle" fill="#141a1f" textLength="124.5" lengthAdjust="spacingAndGlyphs" stroke="#141a1f" stroke-width="0.25" transform="rotate(-90 367.4 1077.3)">Conc. (µg/ml)</text>
<text x="468.3" y="1324" font-size="22.6" text-anchor="middle" fill="#434e53" textLength="12.6" lengthAdjust="spacingAndGlyphs" stroke="#434e53" stroke-width="0.35">0</text>
<text x="532" y="1324" font-size="22.6" text-anchor="middle" fill="#434e53" textLength="25.1" lengthAdjust="spacingAndGlyphs" stroke="#434e53" stroke-width="0.35">60</text>
<text x="595.6" y="1324" font-size="22.6" text-anchor="middle" fill="#434e53" textLength="12.6" lengthAdjust="spacingAndGlyphs" stroke="#434e53" stroke-width="0.35">0</text>
<text x="659.5" y="1324" font-size="22.6" text-anchor="middle" fill="#434e53" textLength="25.1" lengthAdjust="spacingAndGlyphs" stroke="#434e53" stroke-width="0.35">60</text>
<line x1="455" y1="1332.4" x2="567.4" y2="1332.4" stroke="#a3abab" stroke-width="2.0"/>
<line x1="577" y1="1332.4" x2="689.7" y2="1332.4" stroke="#f09f85" stroke-width="2.0"/>
<text x="513.5" y="1355.7" font-size="20.9" text-anchor="middle" fill="#141a1f" stroke="#141a1f" stroke-width="0.25">Control</text>
<text x="633.3" y="1355.7" font-size="20.9" text-anchor="middle" fill="#141a1f" stroke="#141a1f" stroke-width="0.25">dGTPase</text>
<text x="702.3" y="905.9" font-size="32.5" text-anchor="start" fill="#141a1f" font-weight="bold">h</text>
<text x="805.3" y="915.1" font-size="30.4" text-anchor="start" fill="#141a1f" font-weight="bold" textLength="73.5" lengthAdjust="spacingAndGlyphs">dCTP</text>
<rect x="803.8" y="1212.7" width="29.8" height="71.8" fill="#b3bfbf"/>
<rect x="867.6" y="1008.1" width="29.8" height="276.4" fill="#b3bfbf"/>
<rect x="930.9" y="1220.3" width="29.8" height="64.2" fill="#ee9475"/>
<rect x="994.3" y="1066.2" width="29.8" height="218.3" fill="#ee9475"/>
<line x1="787.0" y1="903.4" x2="787.0" y2="1285.5" stroke="#b3bcbb" stroke-width="2.3"/>
<line x1="779.5" y1="1284.5" x2="1040.2" y2="1284.5" stroke="#c0c9c8" stroke-width="2.0"/>
<line x1="778.0" y1="904.5" x2="787.0" y2="904.5" stroke="#b3bbbb" stroke-width="2.2"/>
<text x="761.9" y="911.4" font-size="22.3" text-anchor="end" fill="#434e53" textLength="31.7" lengthAdjust="spacingAndGlyphs" stroke="#434e53" stroke-width="0.35">1.2</text>
<line x1="778.0" y1="967.8333333333334" x2="787.0" y2="967.8333333333334" stroke="#b3bbbb" stroke-width="2.2"/>
<text x="761.9" y="974.7333333333333" font-size="22.3" text-anchor="end" fill="#434e53" textLength="12.7" lengthAdjust="spacingAndGlyphs" stroke="#434e53" stroke-width="0.35">1</text>
<line x1="778.0" y1="1031.1666666666667" x2="787.0" y2="1031.1666666666667" stroke="#b3bbbb" stroke-width="2.2"/>
<text x="761.9" y="1038.0666666666668" font-size="22.3" text-anchor="end" fill="#434e53" textLength="31.7" lengthAdjust="spacingAndGlyphs" stroke="#434e53" stroke-width="0.35">0.8</text>
<line x1="778.0" y1="1094.5" x2="787.0" y2="1094.5" stroke="#b3bbbb" stroke-width="2.2"/>
<text x="761.9" y="1101.4" font-size="22.3" text-anchor="end" fill="#434e53" textLength="31.7" lengthAdjust="spacingAndGlyphs" stroke="#434e53" stroke-width="0.35">0.6</text>
<line x1="778.0" y1="1157.8333333333333" x2="787.0" y2="1157.8333333333333" stroke="#b3bbbb" stroke-width="2.2"/>
<text x="761.9" y="1164.7333333333333" font-size="22.3" text-anchor="end" fill="#434e53" textLength="31.7" lengthAdjust="spacingAndGlyphs" stroke="#434e53" stroke-width="0.35">0.4</text>
<line x1="778.0" y1="1221.1666666666667" x2="787.0" y2="1221.1666666666667" stroke="#b3bbbb" stroke-width="2.2"/>
<text x="761.9" y="1228.0666666666668" font-size="22.3" text-anchor="end" fill="#434e53" textLength="31.7" lengthAdjust="spacingAndGlyphs" stroke="#434e53" stroke-width="0.35">0.2</text>
<text x="761.9" y="1291.4" font-size="22.3" text-anchor="end" fill="#434e53" textLength="12.7" lengthAdjust="spacingAndGlyphs" stroke="#434e53" stroke-width="0.35">0</text>
<circle cx="818.8" cy="1192.4" r="7.1" fill="#b3bfbf" stroke="#10161d" stroke-width="1.75"/>
<circle cx="820.3" cy="1223.3" r="7.1" fill="#b3bfbf" stroke="#10161d" stroke-width="1.75"/>
<circle cx="814.9" cy="1223.3" r="7.1" fill="#b3bfbf" stroke="#10161d" stroke-width="1.75"/>
<circle cx="882.3" cy="974.0" r="7.1" fill="#b3bfbf" stroke="#10161d" stroke-width="1.75"/>
<circle cx="882.3" cy="1041.3" r="7.1" fill="#b3bfbf" stroke="#10161d" stroke-width="1.75"/>
<circle cx="944.5" cy="1217.9" r="7.1" fill="#ee9475" stroke="#10161d" stroke-width="1.75"/>
<circle cx="950.3" cy="1218.9" r="7.1" fill="#ee9475" stroke="#10161d" stroke-width="1.75"/>
<circle cx="945.2" cy="1223.0" r="7.1" fill="#ee9475" stroke="#10161d" stroke-width="1.75"/>
<circle cx="1009.4" cy="1023.5" r="7.1" fill="#ee9475" stroke="#10161d" stroke-width="1.75"/>
<circle cx="1009.4" cy="1108.7" r="7.1" fill="#ee9475" stroke="#10161d" stroke-width="1.75"/>
<text x="711.3000000000001" y="1077.3" font-size="21.3" text-anchor="middle" fill="#141a1f" textLength="124.5" lengthAdjust="spacingAndGlyphs" stroke="#141a1f" stroke-width="0.25" transform="rotate(-90 711.3000000000001 1077.3)">Conc. (µg/ml)</text>
<text x="818.7" y="1324.5" font-size="22.6" text-anchor="middle" fill="#434e53" textLength="12.6" lengthAdjust="spacingAndGlyphs" stroke="#434e53" stroke-width="0.35">0</text>
<text x="882.5" y="1324.5" font-size="22.6" text-anchor="middle" fill="#434e53" textLength="25.1" lengthAdjust="spacingAndGlyphs" stroke="#434e53" stroke-width="0.35">60</text>
<text x="945.8" y="1324.5" font-size="22.6" text-anchor="middle" fill="#434e53" textLength="12.6" lengthAdjust="spacingAndGlyphs" stroke="#434e53" stroke-width="0.35">0</text>
<text x="1009.2" y="1324.5" font-size="22.6" text-anchor="middle" fill="#434e53" textLength="25.1" lengthAdjust="spacingAndGlyphs" stroke="#434e53" stroke-width="0.35">60</text>
<line x1="804.5" y1="1332.1" x2="916.2" y2="1332.1" stroke="#a3abab" stroke-width="2.0"/>
<line x1="926.4" y1="1332.1" x2="1038.5" y2="1332.1" stroke="#f09f85" stroke-width="2.0"/>
<text x="863" y="1355.7" font-size="20.9" text-anchor="middle" fill="#141a1f" stroke="#141a1f" stroke-width="0.25">Control</text>
<text x="982.6" y="1355.7" font-size="20.9" text-anchor="middle" fill="#141a1f" stroke="#141a1f" stroke-width="0.25">dGTPase</text>
</svg>
</body></html>
